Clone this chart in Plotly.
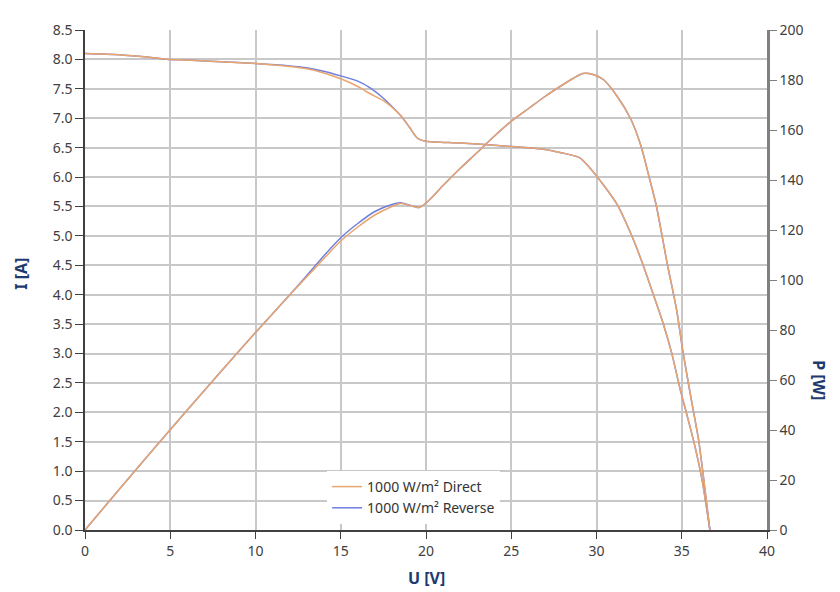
import plotly.graph_objects as go

# I-V curve (left axis)
u_iv = [0, 2, 4, 5, 6, 8, 10, 12, 13, 14, 15, 16, 16.7, 17.5, 18, 18.5, 19, 19.5, 20,
        22, 24, 26, 27, 28, 29, 29.6, 30.4, 31.2, 32.1, 32.7, 33.3, 33.9, 34.4,
        34.9, 35.3, 35.7, 36.2, 36.65]
i_direct = [8.10, 8.08, 8.03, 8.00, 7.99, 7.96, 7.93, 7.88, 7.84, 7.77, 7.67, 7.54, 7.42,
            7.30, 7.19, 7.05, 6.86, 6.66, 6.61, 6.58, 6.54, 6.50, 6.47, 6.41, 6.33, 6.16,
            5.87, 5.54, 4.98, 4.53, 4.03, 3.52, 3.02, 2.40, 1.96, 1.51, 0.84, 0.0]
i_reverse = [8.10, 8.08, 8.03, 8.00, 7.99, 7.96, 7.93, 7.89, 7.86, 7.80, 7.72, 7.63, 7.52,
             7.34, 7.20, 7.05, 6.86, 6.66, 6.61, 6.58, 6.54, 6.50, 6.47, 6.41, 6.33, 6.16,
             5.87, 5.54, 4.98, 4.53, 4.03, 3.52, 3.02, 2.40, 1.96, 1.51, 0.84, 0.0]

# P-V curve (right axis)
u_pv = [0, 2, 4, 6, 8, 10, 12, 13, 14, 15, 16, 17, 18, 18.5, 19, 19.6, 20.1, 21, 22, 23,
        24, 25, 26, 27, 28, 28.6, 29.2, 29.8, 30.4, 31.2, 32, 32.6, 33.1, 33.5, 34.15,
        34.7, 35.05, 35.55, 36.0, 36.3, 36.65]
p_direct = [0, 16.2, 32.2, 48.0, 63.6, 79.0, 94.0, 101.2, 108.5, 115.6, 121.2, 126.0, 129.4,
            130.6, 130.0, 129.0, 131.4, 137.8, 144.6, 151.0, 157.5, 163.5, 168.5, 173.5,
            178.0, 180.5, 182.6, 182.2, 180.2, 173.6, 164.5, 153.8, 140.8, 130.0, 106.5,
            88.0, 72.2, 52.5, 35.5, 19.7, 0]
p_reverse = [0, 16.2, 32.2, 48.0, 63.6, 79.0, 94.0, 101.7, 109.6, 116.9, 122.6, 127.4, 130.2,
             130.9, 130.0, 129.0, 131.4, 137.8, 144.6, 151.0, 157.5, 163.5, 168.5, 173.5,
             178.0, 180.5, 182.6, 182.2, 180.2, 173.6, 164.5, 153.8, 140.8, 130.0, 106.5,
             88.0, 72.2, 52.5, 35.5, 19.7, 0]

orange = '#E9A56E'
blue = '#6F7FDD'
tick_font = dict(family='Noto Sans', size=14, color='#404040')
title_font = dict(family='Noto Sans', size=16, color='#1F3A6E')

fig = go.Figure()

# blue first so orange lies on top where they coincide
fig.add_trace(go.Scatter(x=u_iv, y=i_reverse, mode='lines', name='1000 W/m² Reverse',
                         line=dict(color=blue, width=1.5, shape='spline', smoothing=0.7),
                         legendrank=2))
fig.add_trace(go.Scatter(x=u_pv, y=p_reverse, mode='lines', yaxis='y2', showlegend=False,
                         line=dict(color=blue, width=1.5, shape='spline', smoothing=0.7)))
fig.add_trace(go.Scatter(x=u_iv, y=i_direct, mode='lines', name='1000 W/m² Direct',
                         line=dict(color=orange, width=1.5, shape='spline', smoothing=0.7),
                         legendrank=1))
fig.add_trace(go.Scatter(x=u_pv, y=p_direct, mode='lines', yaxis='y2', showlegend=False,
                         line=dict(color=orange, width=1.5, shape='spline', smoothing=0.7)))

# page body has an 8px margin, so the figure is a bit smaller than the window
fig.update_layout(
    width=832, height=584,
    margin=dict(l=77, r=73, t=15, b=62),
    paper_bgcolor='white', plot_bgcolor='white',
    font=tick_font,
    xaxis=dict(range=[0, 40], dtick=5, showgrid=True, gridcolor='#C8C8C8', gridwidth=1.5,
               zeroline=False, showline=True, linecolor='#404040', linewidth=1.5,
               ticks='outside', ticklen=7, tickcolor='#404040'),
    yaxis=dict(range=[0, 8.5], dtick=0.5, tickformat='.1f', showgrid=True,
               gridcolor='#C8C8C8', gridwidth=1.5, zeroline=False, showline=True,
               linecolor='#404040', linewidth=1.5, ticks='outside', ticklen=8,
               tickcolor='#404040'),
    yaxis2=dict(range=[0, 200], dtick=20, overlaying='y', side='right', showgrid=False,
                zeroline=False, showline=True, linecolor='#808080', linewidth=2.5,
                ticks='outside', ticklen=7, tickcolor='#808080'),
    legend=dict(x=0.355, y=0.118, xanchor='left', yanchor='top',
                bgcolor='white', borderwidth=0,
                font=dict(family='Noto Sans', size=14, color='#333333'),
                tracegroupgap=0),
    showlegend=True,
)

fig.add_annotation(text='<b>U [V]</b>', xref='paper', yref='paper', x=0.5, y=-0.095,
                   xanchor='center', yanchor='middle', showarrow=False, font=title_font)
fig.add_annotation(text='<b>I [A]</b>', xref='paper', yref='paper', x=-0.095, y=0.513,
                   xanchor='center', yanchor='middle', textangle=-90, showarrow=False,
                   font=title_font)
fig.add_annotation(text='<b>P [W]</b>', xref='paper', yref='paper', x=1.076, y=0.30,
                   xanchor='center', yanchor='middle', textangle=90, showarrow=False,
                   font=title_font)

fig.write_html("out.html")
